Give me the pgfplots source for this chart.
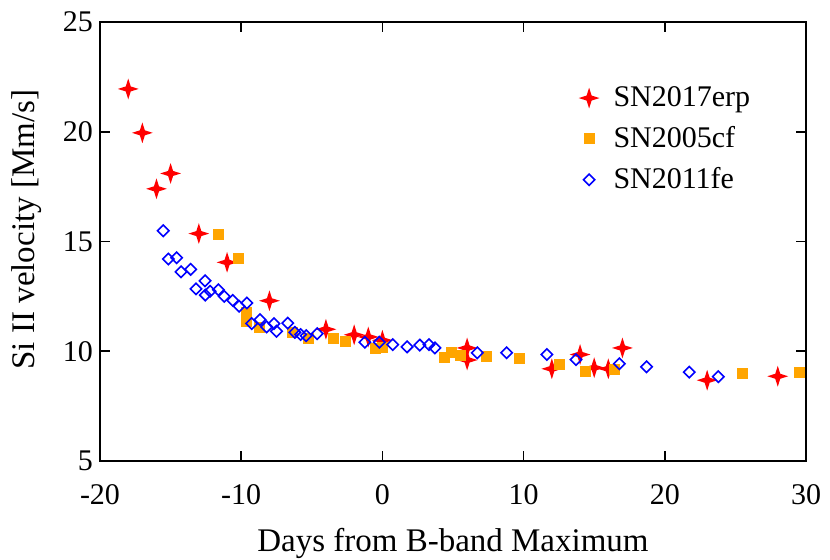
\documentclass[border=0pt]{standalone}
\usepackage{fontspec}
\setmainfont{Liberation Serif}
\usepackage{pgfplots}
\pgfplotsset{compat=1.18}
\pgfdeclareplotmark{star4}{%
 \pgfpathmoveto{\pgfpoint{0pt}{\pgfplotmarksize}}%
 \pgfpathlineto{\pgfpoint{0.24\pgfplotmarksize}{0.24\pgfplotmarksize}}%
 \pgfpathlineto{\pgfpoint{\pgfplotmarksize}{0pt}}%
 \pgfpathlineto{\pgfpoint{0.24\pgfplotmarksize}{-0.24\pgfplotmarksize}}%
 \pgfpathlineto{\pgfpoint{0pt}{-\pgfplotmarksize}}%
 \pgfpathlineto{\pgfpoint{-0.24\pgfplotmarksize}{-0.24\pgfplotmarksize}}%
 \pgfpathlineto{\pgfpoint{-\pgfplotmarksize}{0pt}}%
 \pgfpathlineto{\pgfpoint{-0.24\pgfplotmarksize}{0.24\pgfplotmarksize}}%
 \pgfpathclose
 \pgfusepathqfill
}
\definecolor{myorange}{RGB}{255,165,0}
\begin{document}
\begin{tikzpicture}
\begin{axis}[
  scale only axis,
  width=353pt, height=219.5pt,
  xmin=-20, xmax=30, ymin=5, ymax=25,
  xtick={-20,-10,0,10,20,30},
  xticklabels={-20,-10,0,10,20,30},
  ytick={5,10,15,20,25},
  tick align=inside,
  major tick length=5pt,
  axis line style={line width=0.8pt},
  every tick/.style={line width=0.8pt, black},
  /pgf/number format/assume math mode=true,
  tick label style={font=\fontsize{15}{18}\selectfont},
  xticklabel style={yshift=-8pt},
  label style={font=\fontsize{16.5}{20}\selectfont},
  xlabel={Days from B-band Maximum},
  ylabel={Si II velocity [Mm/s]},
  xlabel style={at={(axis description cs:0.5,-0.1868)}, anchor=center},
  ylabel style={at={(axis description cs:-0.1034,0.527)}, anchor=center, rotate=0},
  legend style={draw=none, fill=none, at={(axis description cs:0.669,0.872)}, anchor=north west,
    font=\fontsize{15}{18}\selectfont, row sep=4.5pt,
    /tikz/every odd column/.append style={column sep=5pt}},
  legend cell align=left,
  legend image code/.code={\draw[mark repeat=2,mark phase=2,#1] plot coordinates {(0cm,0cm) (0.124cm,0cm) (0.81cm,0cm)};},
]
\addplot[only marks, color=red, mark=star4, mark size=5.2pt, mark options={fill=red, draw=none}] coordinates {
(-18,21.95) (-17,19.95) (-16,17.4) (-15,18.1) (-13,15.36) (-11,14.05) (-8,12.3)
(-4,11.0) (-2,10.75) (-1,10.65) (0,10.5) (6,10.15) (6,9.6) (12,9.2) (14,9.85)
(15,9.25) (16,9.2) (17,10.15) (23,8.68) (28,8.86)
};
\addlegendentry{SN2017erp}
\addplot[only marks, color=myorange, mark=square*, mark size=2.5pt, mark options={fill=myorange, draw=myorange}] coordinates {
(-11.6,15.32) (-10.2,14.23) (-9.6,11.75) (-9.6,11.35) (-8.7,11.08) (-6.4,10.84)
(-5.25,10.6) (-3.5,10.6) (-2.6,10.43) (-0.5,10.15) (0.0,10.18) (4.4,9.7) (4.9,9.95)
(5.5,9.82) (7.4,9.78) (9.7,9.67) (12.5,9.38) (14.4,9.1) (16.4,9.18) (25.5,9.0) (29.5,9.02)
};
\addlegendentry{SN2005cf}
\addplot[only marks, color=blue, mark=square, mark size=2pt, mark options={draw=blue, line width=0.8pt, fill=none, rotate=45}] coordinates {
(-15.52,15.49) (-15.16,14.2) (-14.57,14.26) (-14.26,13.62) (-13.58,13.73) (-13.2,12.84)
(-12.56,13.21) (-12.54,12.56) (-12.2,12.73) (-11.62,12.8) (-11.2,12.5) (-10.6,12.32)
(-10.15,12.05) (-9.6,12.2) (-9.26,11.26) (-8.67,11.44) (-8.2,11.11) (-7.68,11.26)
(-7.5,10.91) (-6.7,11.28) (-6.2,10.86) (-5.79,10.76) (-5.4,10.71) (-4.62,10.8)
(-1.24,10.41) (-0.22,10.41) (0.73,10.3) (1.75,10.2) (2.65,10.28) (3.3,10.3) (3.72,10.15)
(6.72,9.93) (8.8,9.93) (11.65,9.85) (13.71,9.62) (16.78,9.43) (18.71,9.29) (21.73,9.05) (23.79,8.84)
};
\addlegendentry{SN2011fe}
\end{axis}
\pgfresetboundingbox
\path[use as bounding box] ([shift={(-50pt,-49.5pt)}]current axis.south west) rectangle ([shift={(12pt,11pt)}]current axis.north east);
\end{tikzpicture}
\end{document}
